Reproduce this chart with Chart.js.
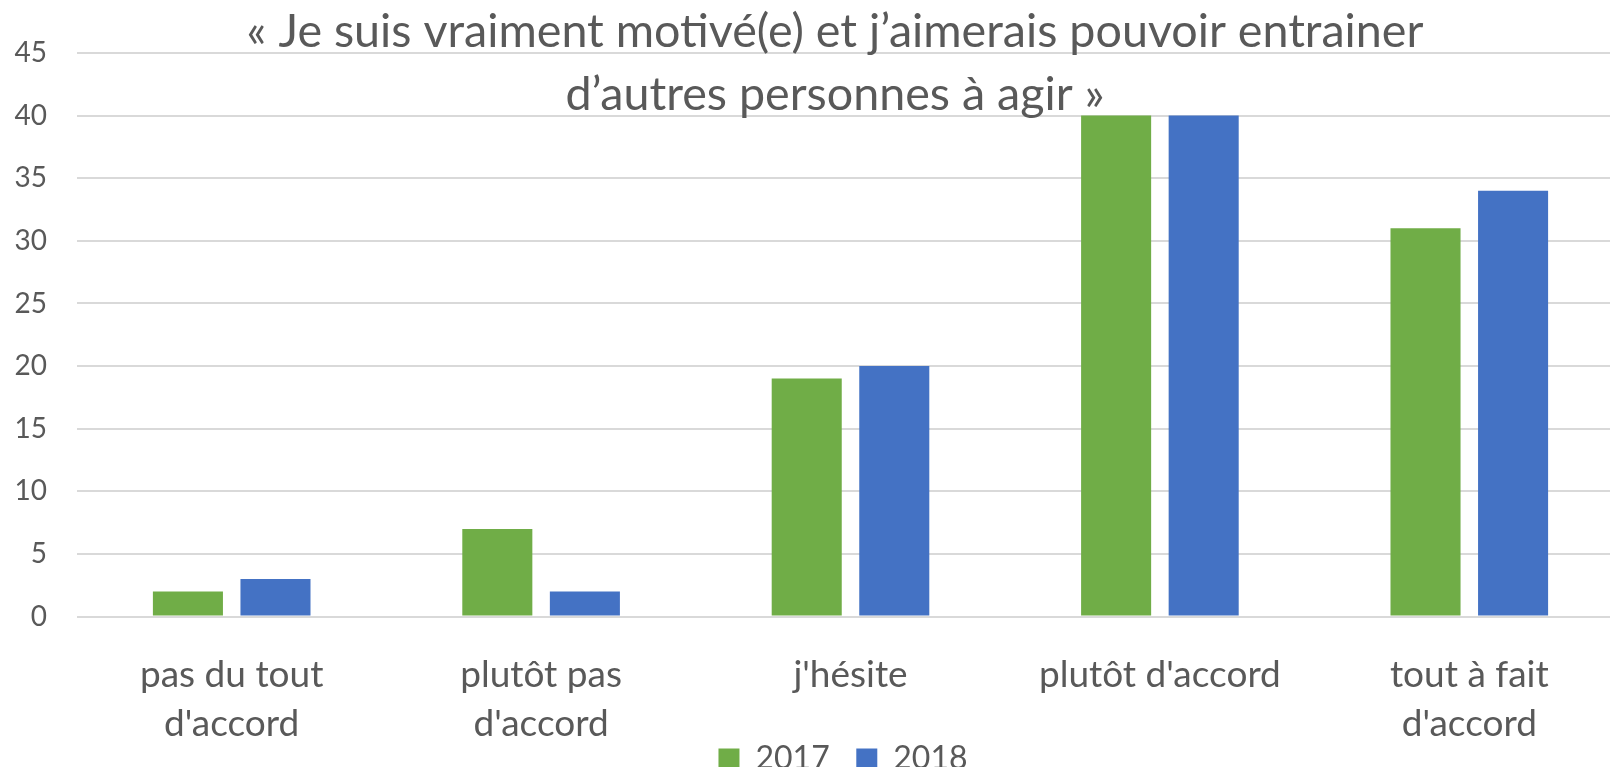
<!DOCTYPE html>
<html>
<head>
<meta charset="utf-8">
<script src="https://cdn.jsdelivr.net/npm/chart.js@4"></script>
<style>
  body { margin: 0; overflow: hidden; background: #fff; }
  #wrap { width: 1680px; height: 767px; position: relative; }
</style>
</head>
<body>
<div id="wrap"><canvas id="chart"></canvas></div>
<script>
const categories = [['pas du tout', "d'accord"], ['plutôt pas', "d'accord"], ["j'hésite"], ["plutôt d'accord"], ['tout à fait', "d'accord"]];
const values2017 = [2, 7, 19, 40, 31];
const values2018 = [3, 2, 20, 40, 34];
const yTicks = [0, 5, 10, 15, 20, 25, 30, 35, 40, 45];
const titleLines = ['« Je suis vraiment motivé(e) et j’aimerais pouvoir entrainer', 'd’autres personnes à agir »'];

const textColor = '#595959';
const fontFamily = 'Lato, "Open Sans", sans-serif';

// title sits over the plot area like in the original, so draw it by hand
const titlePlugin = {
  id: 'overTitle',
  afterLayout(chart) {
    // legend in the original overlaps the bottom of the labels, a bit right of centre
    chart.legend.left += 31;
    chart.legend.right += 31;
    chart.legend.top -= 34;
    chart.legend.bottom -= 34;
  },
  afterDraw(chart) {
    const ctx = chart.ctx;
    ctx.save();
    ctx.fillStyle = textColor;
    ctx.textAlign = 'center';
    ctx.textBaseline = 'alphabetic';
    let size = 44;
    ctx.font = size + 'px ' + fontFamily;
    const w = ctx.measureText(titleLines[0]).width;
    size = size * 1177 / w;
    ctx.font = size + 'px ' + fontFamily;
    ctx.fillText(titleLines[0], 835, 47);
    ctx.fillText(titleLines[1], 835, 110);
    ctx.restore();
  }
};

new Chart(document.getElementById('chart'), {
  type: 'bar',
  data: {
    labels: categories,
    datasets: [
      { label: '2017', data: values2017, backgroundColor: '#70AD47' },
      { label: '2018', data: values2018, backgroundColor: '#4472C4' }
    ]
  },
  options: {
    responsive: true,
    maintainAspectRatio: false,
    animation: false,
    datasets: {
      bar: { categoryPercentage: 0.566, barPercentage: 0.8 }
    },
    layout: { padding: { top: 53, right: 56, left: 0, bottom: -52 } },
    plugins: {
      title: { display: false },
      tooltip: { enabled: false },
      legend: {
        position: 'bottom',
        labels: {
          color: textColor,
          font: { family: fontFamily, size: 32 },
          boxWidth: 21,
          boxHeight: 21,
          padding: 2,
          generateLabels(chart) {
            const items = Chart.defaults.plugins.legend.labels.generateLabels(chart);
            // extra room between the two entries
            items.forEach((it, i) => { if (i < items.length - 1) it.text = it.text + '   '; });
            return items;
          }
        }
      }
    },
    scales: {
      x: {
        grid: { display: false },
        border: { display: false },
        ticks: {
          color: textColor,
          font: { family: fontFamily, size: 37, lineHeight: 1.33 },
          padding: 26,
          maxRotation: 0
        }
      },
      y: {
        min: 0,
        max: 45,
        afterFit(scale) { scale.width = 77; },
        afterBuildTicks(scale) { scale.ticks = yTicks.map(v => ({ value: v })); },
        grid: { color: '#D9D9D9', lineWidth: 2, drawTicks: false },
        border: { display: false },
        ticks: {
          color: textColor,
          font: { family: fontFamily, size: 28 },
          padding: 30
        }
      }
    }
  },
  plugins: [titlePlugin]
});
</script>
</body>
</html>
